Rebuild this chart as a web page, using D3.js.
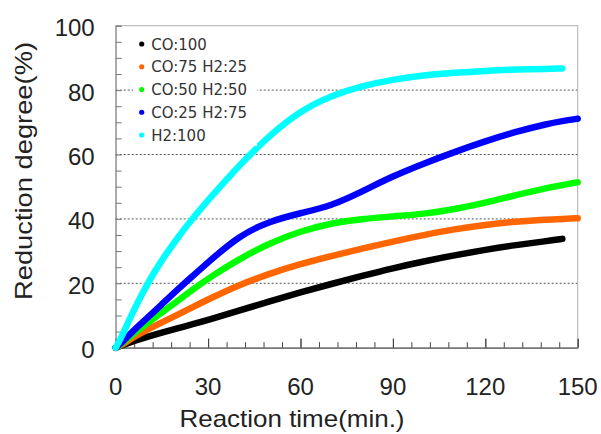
<!DOCTYPE html>
<html>
<head>
<meta charset="utf-8">
<script src="https://cdn.jsdelivr.net/npm/d3@7"></script>
<style>
  body { margin: 0; background: #fff; }
  svg { display: block; }
</style>
</head>
<body>
<div class="chart"></div>
<script>
// reaction time (min.) sampled along each curve
const minutes = [0, 2, 5, 10, 15, 20, 25, 30, 40, 50, 60, 70, 80, 90, 100, 110, 120, 130, 140, 145, 150];

// reduction degree (%) per gas mixture
const co100   = [0, 0.7, 1.8, 3.3, 4.7, 6.0, 7.3, 8.6, 11.5, 14.4, 17.2, 19.8, 22.3, 24.7, 26.8, 28.7, 30.4, 31.9, 33.1, 33.8, null];
const co75h25 = [0, 0.8, 2.8, 5.5, 7.9, 10.2, 12.6, 15.0, 19.5, 23.0, 26.0, 28.5, 30.8, 33.0, 35.0, 36.8, 38.2, 39.2, 39.8, 40.0, 40.2];
const co50h50 = [0, 1.2, 3.8, 7.4, 11.0, 14.5, 18.0, 21.5, 27.5, 32.5, 36.2, 38.7, 40.0, 40.8, 41.5, 43.0, 45.0, 47.4, 49.6, 50.5, 51.4];
const co25h75 = [0, 1.6, 4.6, 9.0, 13.5, 18.0, 22.3, 26.5, 34.8, 39.3, 41.8, 44.0, 48.5, 53.3, 57.2, 60.8, 64.1, 67.1, 69.5, 70.4, 71.1];
const h2100   = [0, 3.5, 10.0, 19.5, 27.3, 34.0, 40.2, 45.8, 56.6, 66.0, 73.6, 78.3, 81.3, 83.3, 84.6, 85.4, 86.0, 86.4, 86.6, 86.7, null];

const seriesNames = ["CO:100", "CO:75 H2:25", "CO:50 H2:50", "CO:25 H2:75", "H2:100"];
const seriesValues = [co100, co75h25, co50h50, co25h75, h2100];
const colors = ["#000000", "#ff6600", "#00ff00", "#0000ff", "#00ffff"];

const xTicks = [0, 30, 60, 90, 120, 150];
const yTicks = [0, 20, 40, 60, 80, 100];

let margin = { top: 25.7, right: 23.3, bottom: 86.3, left: 115.7 };
let width = 601 - margin.left - margin.right;
let height = 434 - margin.top - margin.bottom;

let root = d3
  .select(".chart")
  .append("svg")
  .attr("width", 601)
  .attr("height", 434);

let svg = root
  .append("g")
  .attr("transform", `translate(${margin.left}, ${margin.top})`);

const xScale = d3.scaleLinear().domain([0, 150]).range([0, width]);
const yScale = d3.scaleLinear().domain([0, 100]).range([height, 0]);

// dotted grid lines at the labelled y values
svg
  .selectAll(".grid")
  .data(yTicks.filter(d => d > 0 && d < 100))
  .enter()
  .append("line")
  .attr("x1", 0)
  .attr("x2", width)
  .attr("y1", d => yScale(d))
  .attr("y2", d => yScale(d))
  .style("stroke", "#555")
  .style("stroke-width", 1)
  .style("stroke-dasharray", "2,2");

// white box behind the legend hides the grid there
root
  .append("rect")
  .attr("x", 133)
  .attr("y", 30)
  .attr("width", 124)
  .attr("height", 116)
  .style("fill", "#fff");

// frame
svg
  .append("rect")
  .attr("width", width)
  .attr("height", height)
  .style("fill", "none")
  .style("stroke", "#b0b0b0")
  .style("stroke-width", 1);

// minor + major ticks pointing inward
const xAxis = svg
  .append("g")
  .attr("transform", `translate(0, ${height})`)
  .call(
    d3.axisTop(xScale)
      .tickValues(d3.range(0, 151, 6).concat(xTicks))
      .tickSize(0)
      .tickFormat("")
  );
xAxis.select(".domain").style("stroke", "#444");
xAxis.selectAll(".tick line")
  .attr("y2", d => (d % 30 === 0 ? -9 : -5.5))
  .style("stroke", "#444");

const yAxis = svg
  .append("g")
  .call(
    d3.axisRight(yScale)
      .tickValues(d3.range(0, 101, 5))
      .tickSize(6)
      .tickFormat("")
  );
yAxis.select(".domain").style("stroke", "#888");
yAxis.selectAll(".tick line").style("stroke", "#777");

// tick labels
svg
  .selectAll(".xlabel")
  .data(xTicks)
  .enter()
  .append("text")
  .attr("x", d => xScale(d))
  .attr("y", height + 47)
  .attr("text-anchor", "middle")
  .style("font-family", "Liberation Sans, Arial, sans-serif")
  .style("font-size", "24px")
  .style("fill", "#222")
  .text(d => d);

svg
  .selectAll(".ylabel")
  .data(yTicks)
  .enter()
  .append("text")
  .attr("x", -21)
  .attr("y", d => yScale(d) + 10.5)
  .attr("text-anchor", "end")
  .style("font-family", "Liberation Sans, Arial, sans-serif")
  .style("font-size", "24px")
  .style("fill", "#222")
  .text(d => d);

// axis titles
root
  .append("text")
  .attr("x", 292)
  .attr("y", 427)
  .attr("text-anchor", "middle")
  .attr("textLength", 225)
  .attr("lengthAdjust", "spacingAndGlyphs")
  .style("font-family", "Liberation Sans, Arial, sans-serif")
  .style("font-size", "24px")
  .style("fill", "#222")
  .text("Reaction time(min.)");

root
  .append("text")
  .attr("transform", "translate(32, 171) rotate(-90)")
  .attr("text-anchor", "middle")
  .attr("textLength", 258)
  .attr("lengthAdjust", "spacingAndGlyphs")
  .style("font-family", "Liberation Sans, Arial, sans-serif")
  .style("font-size", "24px")
  .style("fill", "#222")
  .text("Reduction degree(%)");

// curves (smoothed through the read points)
const line = d3
  .line()
  .defined(d => d[1] !== null)
  .x(d => xScale(d[0]))
  .y(d => yScale(d[1]))
  .curve(d3.curveBasis);

svg
  .selectAll(".series")
  .data(seriesValues)
  .enter()
  .append("path")
  .attr("d", vals => line(minutes.map((t, i) => [t, vals[i]])))
  .style("fill", "none")
  .style("stroke", (d, i) => colors[i])
  .style("stroke-width", 6.5)
  .style("stroke-linecap", "round")
  .style("stroke-linejoin", "round");

// legend
const rows = root
  .append("g")
  .selectAll(".row")
  .data(seriesNames)
  .enter()
  .append("g")
  .attr("transform", (d, i) => `translate(141.7, ${44 + i * 22.75})`);

rows
  .append("circle")
  .attr("r", 2.6)
  .style("fill", (d, i) => colors[i]);

rows
  .append("text")
  .attr("x", 9.5)
  .attr("y", 5.5)
  .style("font-family", "DejaVu Sans, sans-serif")
  .style("font-size", "15px")
  .style("fill", "#333")
  .text(d => d);
</script>
</body>
</html>
